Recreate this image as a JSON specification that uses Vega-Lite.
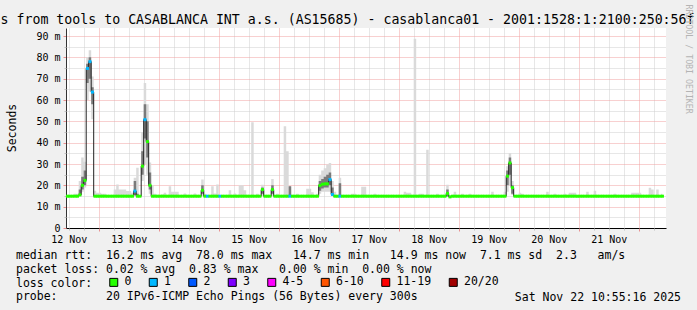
{
"$schema": "https://vega.github.io/schema/vega-lite/v6.json",
"width": 600, "height": 200,
"autosize": {"type": "none"},
"padding": {"left": 66, "top": 28, "right": 31, "bottom": 82},
"background": "#f0f0f0",
"config": {
  "view": {"stroke": null, "fill": "#ffffff"},
  "font": "DejaVu Sans Mono",
  "axis": {"labelFont": "DejaVu Sans Mono", "titleFont": "DejaVu Sans Mono", "labelColor": "#000000", "titleColor": "#000000", "titleFontWeight": "normal", "gridDash": [1, 1], "gridOpacity": 1}
},
"data": {"values": [
{"t":"2025-11-12T11:30","med":14.9,"loss":"0","lo":14.7,"q1":14.8,"q3":15,"hi":15.3},
{"t":"2025-11-12T12:30","med":14.9,"loss":"0","lo":14.7,"q1":14.8,"q3":15,"hi":15.3},
{"t":"2025-11-12T13:30","med":14.9,"loss":"0","lo":14.7,"q1":14.8,"q3":15,"hi":15.3},
{"t":"2025-11-12T14:30","med":14.9,"loss":"0","lo":14.7,"q1":14.8,"q3":15,"hi":16},
{"t":"2025-11-12T15:30","med":14.9,"loss":"0","lo":14.7,"q1":14.8,"q3":15,"hi":16},
{"t":"2025-11-12T16:30","med":15.5,"loss":"0","lo":14.7,"q1":15,"q3":18,"hi":22},
{"t":"2025-11-12T17:30","med":20,"loss":"0","lo":17,"q1":18,"q3":24,"hi":33},
{"t":"2025-11-12T18:30","med":22.3,"loss":"0","lo":19,"q1":20,"q3":27,"hi":31},
{"t":"2025-11-12T19:30","med":74.8,"loss":"1","lo":60,"q1":68,"q3":77,"hi":80},
{"t":"2025-11-12T20:30","med":78,"loss":"1","lo":64,"q1":70,"q3":80,"hi":83.3},
{"t":"2025-11-12T21:30","med":63.7,"loss":"1","lo":51,"q1":58,"q3":66,"hi":71},
{"t":"2025-11-12T22:30","med":14.9,"loss":"0","lo":14.7,"q1":14.8,"q3":15,"hi":17.5},
{"t":"2025-11-12T23:30","med":14.9,"loss":"0","lo":14.7,"q1":14.8,"q3":15,"hi":16.5},
{"t":"2025-11-13T00:30","med":14.9,"loss":"0","lo":14.7,"q1":14.8,"q3":15,"hi":16.5},
{"t":"2025-11-13T01:30","med":14.9,"loss":"0","lo":14.7,"q1":14.8,"q3":15,"hi":16},
{"t":"2025-11-13T02:30","med":14.9,"loss":"0","lo":14.7,"q1":14.8,"q3":15,"hi":16},
{"t":"2025-11-13T03:30","med":14.9,"loss":"0","lo":14.7,"q1":14.8,"q3":15,"hi":15.3},
{"t":"2025-11-13T04:30","med":14.9,"loss":"0","lo":14.7,"q1":14.8,"q3":15,"hi":15.3},
{"t":"2025-11-13T05:30","med":14.9,"loss":"0","lo":14.7,"q1":14.8,"q3":15,"hi":15.3},
{"t":"2025-11-13T06:30","med":14.9,"loss":"0","lo":14.7,"q1":14.8,"q3":15,"hi":18},
{"t":"2025-11-13T07:30","med":14.9,"loss":"0","lo":14.7,"q1":14.8,"q3":15,"hi":20.4},
{"t":"2025-11-13T08:30","med":14.9,"loss":"0","lo":14.7,"q1":14.8,"q3":15,"hi":18},
{"t":"2025-11-13T09:30","med":14.9,"loss":"0","lo":14.7,"q1":14.8,"q3":15,"hi":18},
{"t":"2025-11-13T10:30","med":14.9,"loss":"0","lo":14.7,"q1":14.8,"q3":15,"hi":18},
{"t":"2025-11-13T11:30","med":14.9,"loss":"0","lo":14.7,"q1":14.8,"q3":15,"hi":17.4},
{"t":"2025-11-13T12:30","med":14.9,"loss":"0","lo":14.7,"q1":14.8,"q3":15,"hi":17.4},
{"t":"2025-11-13T13:30","med":14.9,"loss":"0","lo":14.7,"q1":14.8,"q3":15,"hi":16.5},
{"t":"2025-11-13T14:30","med":17.3,"loss":"1","lo":15,"q1":15.5,"q3":22,"hi":23.6},
{"t":"2025-11-13T15:30","med":14.9,"loss":"0","lo":14.7,"q1":14.8,"q3":16,"hi":28.2},
{"t":"2025-11-13T16:30","med":14.9,"loss":"0","lo":14.7,"q1":14.8,"q3":15,"hi":15.5},
{"t":"2025-11-13T17:30","med":29,"loss":"0","lo":22,"q1":25,"q3":36,"hi":45},
{"t":"2025-11-13T18:30","med":50.8,"loss":"1","lo":30,"q1":42,"q3":58,"hi":68},
{"t":"2025-11-13T19:30","med":40.5,"loss":"0","lo":25,"q1":33,"q3":50,"hi":58},
{"t":"2025-11-13T20:30","med":20,"loss":"0","lo":16,"q1":18,"q3":26,"hi":30.7},
{"t":"2025-11-13T21:30","med":14.9,"loss":"0","lo":14.7,"q1":14.8,"q3":15,"hi":20},
{"t":"2025-11-13T22:30","med":14.9,"loss":"0","lo":14.7,"q1":14.8,"q3":15,"hi":16},
{"t":"2025-11-13T23:30","med":14.9,"loss":"0","lo":14.7,"q1":14.8,"q3":15,"hi":15.3},
{"t":"2025-11-14T00:30","med":14.9,"loss":"0","lo":14.7,"q1":14.8,"q3":15,"hi":15.3},
{"t":"2025-11-14T01:30","med":14.9,"loss":"0","lo":14.7,"q1":14.8,"q3":15,"hi":15.7},
{"t":"2025-11-14T02:30","med":14.9,"loss":"0","lo":14.7,"q1":14.8,"q3":15,"hi":16.5},
{"t":"2025-11-14T03:30","med":14.9,"loss":"0","lo":14.7,"q1":14.8,"q3":15,"hi":15.3},
{"t":"2025-11-14T04:30","med":14.9,"loss":"0","lo":14.7,"q1":14.8,"q3":15,"hi":19.6},
{"t":"2025-11-14T05:30","med":14.9,"loss":"0","lo":14.7,"q1":14.8,"q3":15,"hi":17},
{"t":"2025-11-14T06:30","med":14.9,"loss":"0","lo":14.7,"q1":14.8,"q3":15,"hi":17},
{"t":"2025-11-14T07:30","med":14.9,"loss":"0","lo":14.7,"q1":14.8,"q3":15,"hi":17},
{"t":"2025-11-14T08:30","med":14.9,"loss":"0","lo":14.7,"q1":14.8,"q3":15,"hi":15.3},
{"t":"2025-11-14T09:30","med":14.9,"loss":"0","lo":14.7,"q1":14.8,"q3":15,"hi":15.3},
{"t":"2025-11-14T10:30","med":14.9,"loss":"0","lo":14.7,"q1":14.8,"q3":15,"hi":16.2},
{"t":"2025-11-14T11:30","med":14.9,"loss":"0","lo":14.7,"q1":14.8,"q3":15,"hi":15.3},
{"t":"2025-11-14T12:30","med":14.9,"loss":"0","lo":14.7,"q1":14.8,"q3":15,"hi":15.3},
{"t":"2025-11-14T13:30","med":14.9,"loss":"0","lo":14.7,"q1":14.8,"q3":15,"hi":15.3},
{"t":"2025-11-14T14:30","med":14.9,"loss":"0","lo":14.7,"q1":14.8,"q3":15,"hi":16.2},
{"t":"2025-11-14T15:30","med":14.9,"loss":"0","lo":14.7,"q1":14.8,"q3":15,"hi":15.3},
{"t":"2025-11-14T16:30","med":14.9,"loss":"0","lo":14.7,"q1":14.8,"q3":15,"hi":15.3},
{"t":"2025-11-14T17:30","med":17.7,"loss":"0","lo":15,"q1":16,"q3":20,"hi":22.7},
{"t":"2025-11-14T18:30","med":14.9,"loss":"0","lo":14.7,"q1":14.8,"q3":15,"hi":16},
{"t":"2025-11-14T19:30","med":14.9,"loss":"1","lo":14.7,"q1":14.8,"q3":15,"hi":15.3},
{"t":"2025-11-14T20:30","med":14.9,"loss":"0","lo":14.7,"q1":14.8,"q3":15,"hi":15.3},
{"t":"2025-11-14T21:30","med":14.9,"loss":"0","lo":14.7,"q1":14.8,"q3":15,"hi":19.6},
{"t":"2025-11-14T22:30","med":14.9,"loss":"0","lo":14.7,"q1":14.8,"q3":15,"hi":16.2},
{"t":"2025-11-14T23:30","med":14.9,"loss":"0","lo":14.7,"q1":14.8,"q3":15,"hi":20.4},
{"t":"2025-11-15T00:30","med":14.9,"loss":"1","lo":14.7,"q1":14.8,"q3":15,"hi":15.3},
{"t":"2025-11-15T01:30","med":14.9,"loss":"0","lo":14.7,"q1":14.8,"q3":15,"hi":15.3},
{"t":"2025-11-15T02:30","med":14.9,"loss":"0","lo":14.7,"q1":14.8,"q3":15,"hi":15.3},
{"t":"2025-11-15T03:30","med":14.9,"loss":"0","lo":14.7,"q1":14.8,"q3":15,"hi":15.3},
{"t":"2025-11-15T04:30","med":14.9,"loss":"0","lo":14.7,"q1":14.8,"q3":15,"hi":17.7},
{"t":"2025-11-15T05:30","med":14.9,"loss":"0","lo":14.7,"q1":14.8,"q3":15,"hi":15.3},
{"t":"2025-11-15T06:30","med":14.9,"loss":"0","lo":14.7,"q1":14.8,"q3":15,"hi":16.2},
{"t":"2025-11-15T07:30","med":14.9,"loss":"0","lo":14.7,"q1":14.8,"q3":15,"hi":15.3},
{"t":"2025-11-15T08:30","med":14.9,"loss":"0","lo":14.7,"q1":14.8,"q3":15,"hi":20},
{"t":"2025-11-15T09:30","med":14.9,"loss":"0","lo":14.7,"q1":14.8,"q3":15,"hi":20},
{"t":"2025-11-15T10:30","med":14.9,"loss":"0","lo":14.7,"q1":14.8,"q3":15,"hi":17.7},
{"t":"2025-11-15T11:30","med":14.9,"loss":"0","lo":14.7,"q1":14.8,"q3":15,"hi":15.3},
{"t":"2025-11-15T12:30","med":14.9,"loss":"0","lo":14.7,"q1":14.8,"q3":15,"hi":15.3},
{"t":"2025-11-15T13:30","med":14.9,"loss":"0","lo":14.7,"q1":14.8,"q3":15,"hi":49.6},
{"t":"2025-11-15T14:30","med":14.9,"loss":"0","lo":14.7,"q1":14.8,"q3":15,"hi":15.3},
{"t":"2025-11-15T15:30","med":14.9,"loss":"0","lo":14.7,"q1":14.8,"q3":15,"hi":16},
{"t":"2025-11-15T16:30","med":14.9,"loss":"0","lo":14.7,"q1":14.8,"q3":15,"hi":15.3},
{"t":"2025-11-15T17:30","med":18,"loss":"0","lo":15,"q1":16,"q3":19,"hi":20.3},
{"t":"2025-11-15T18:30","med":14.9,"loss":"0","lo":14.7,"q1":14.8,"q3":15,"hi":15.3},
{"t":"2025-11-15T19:30","med":14.9,"loss":"0","lo":14.7,"q1":14.8,"q3":15,"hi":15.3},
{"t":"2025-11-15T20:30","med":14.9,"loss":"0","lo":14.7,"q1":14.8,"q3":15,"hi":15.3},
{"t":"2025-11-15T21:30","med":18,"loss":"0","lo":15,"q1":16,"q3":20,"hi":23},
{"t":"2025-11-15T22:30","med":14.9,"loss":"0","lo":14.7,"q1":14.8,"q3":15,"hi":15.3},
{"t":"2025-11-15T23:30","med":14.9,"loss":"0","lo":14.7,"q1":14.8,"q3":15,"hi":16},
{"t":"2025-11-16T00:30","med":14.9,"loss":"0","lo":14.7,"q1":14.8,"q3":15,"hi":15.3},
{"t":"2025-11-16T01:30","med":14.9,"loss":"0","lo":14.7,"q1":14.8,"q3":15,"hi":15.3},
{"t":"2025-11-16T02:30","med":14.9,"loss":"0","lo":14.7,"q1":14.8,"q3":15,"hi":47.7},
{"t":"2025-11-16T03:30","med":14.9,"loss":"0","lo":14.7,"q1":14.8,"q3":15,"hi":36},
{"t":"2025-11-16T04:30","med":14.9,"loss":"1","lo":14.7,"q1":14.8,"q3":19.6,"hi":19.6},
{"t":"2025-11-16T05:30","med":14.9,"loss":"0","lo":14.7,"q1":14.8,"q3":15,"hi":15.3},
{"t":"2025-11-16T06:30","med":14.9,"loss":"0","lo":14.7,"q1":14.8,"q3":15,"hi":15.3},
{"t":"2025-11-16T07:30","med":14.9,"loss":"0","lo":14.7,"q1":14.8,"q3":15,"hi":16},
{"t":"2025-11-16T08:30","med":14.9,"loss":"0","lo":14.7,"q1":14.8,"q3":15,"hi":15.3},
{"t":"2025-11-16T09:30","med":14.9,"loss":"0","lo":14.7,"q1":14.8,"q3":15,"hi":15.3},
{"t":"2025-11-16T10:30","med":14.9,"loss":"0","lo":14.7,"q1":14.8,"q3":15,"hi":15.3},
{"t":"2025-11-16T11:30","med":14.9,"loss":"0","lo":14.7,"q1":14.8,"q3":15,"hi":18.4},
{"t":"2025-11-16T12:30","med":14.9,"loss":"0","lo":14.7,"q1":14.8,"q3":15,"hi":18.4},
{"t":"2025-11-16T13:30","med":14.9,"loss":"0","lo":14.7,"q1":14.8,"q3":15,"hi":16.8},
{"t":"2025-11-16T14:30","med":14.9,"loss":"0","lo":14.7,"q1":14.8,"q3":15,"hi":15.3},
{"t":"2025-11-16T15:30","med":14.9,"loss":"0","lo":14.7,"q1":14.8,"q3":15,"hi":16},
{"t":"2025-11-16T16:30","med":19.9,"loss":"0","lo":16,"q1":17.5,"q3":22,"hi":25},
{"t":"2025-11-16T17:30","med":20.5,"loss":"0","lo":17,"q1":18.5,"q3":23,"hi":27},
{"t":"2025-11-16T18:30","med":20.7,"loss":"0","lo":17,"q1":19,"q3":24,"hi":28},
{"t":"2025-11-16T19:30","med":20.7,"loss":"0","lo":17,"q1":19,"q3":25,"hi":29.8},
{"t":"2025-11-16T20:30","med":22.7,"loss":"1","lo":17,"q1":20,"q3":26,"hi":30.5},
{"t":"2025-11-16T21:30","med":15.7,"loss":"1","lo":15,"q1":15.3,"q3":19,"hi":22},
{"t":"2025-11-16T22:30","med":14.9,"loss":"0","lo":14.7,"q1":14.8,"q3":15,"hi":17},
{"t":"2025-11-16T23:30","med":14.9,"loss":"0","lo":14.7,"q1":14.8,"q3":15,"hi":15.3},
{"t":"2025-11-17T00:30","med":14.9,"loss":"1","lo":14.7,"q1":14.8,"q3":21,"hi":23.5},
{"t":"2025-11-17T01:30","med":14.9,"loss":"0","lo":14.7,"q1":14.8,"q3":15,"hi":15.3},
{"t":"2025-11-17T02:30","med":14.9,"loss":"0","lo":14.7,"q1":14.8,"q3":15,"hi":15.3},
{"t":"2025-11-17T03:30","med":14.9,"loss":"0","lo":14.7,"q1":14.8,"q3":15,"hi":15.3},
{"t":"2025-11-17T04:30","med":14.9,"loss":"0","lo":14.7,"q1":14.8,"q3":15,"hi":15.3},
{"t":"2025-11-17T05:30","med":14.9,"loss":"0","lo":14.7,"q1":14.8,"q3":15,"hi":16},
{"t":"2025-11-17T06:30","med":14.9,"loss":"0","lo":14.7,"q1":14.8,"q3":15,"hi":16},
{"t":"2025-11-17T07:30","med":14.9,"loss":"0","lo":14.7,"q1":14.8,"q3":15,"hi":15.3},
{"t":"2025-11-17T08:30","med":14.9,"loss":"0","lo":14.7,"q1":14.8,"q3":15,"hi":15.3},
{"t":"2025-11-17T09:30","med":14.9,"loss":"0","lo":14.7,"q1":14.8,"q3":15,"hi":19.3},
{"t":"2025-11-17T10:30","med":14.9,"loss":"0","lo":14.7,"q1":14.8,"q3":15,"hi":19.3},
{"t":"2025-11-17T11:30","med":14.9,"loss":"0","lo":14.7,"q1":14.8,"q3":15,"hi":15.3},
{"t":"2025-11-17T12:30","med":14.9,"loss":"0","lo":14.7,"q1":14.8,"q3":15,"hi":15.3},
{"t":"2025-11-17T13:30","med":14.9,"loss":"0","lo":14.7,"q1":14.8,"q3":15,"hi":15.3},
{"t":"2025-11-17T14:30","med":14.9,"loss":"0","lo":14.7,"q1":14.8,"q3":15,"hi":16},
{"t":"2025-11-17T15:30","med":14.9,"loss":"0","lo":14.7,"q1":14.8,"q3":15,"hi":15.3},
{"t":"2025-11-17T16:30","med":14.9,"loss":"0","lo":14.7,"q1":14.8,"q3":15,"hi":15.3},
{"t":"2025-11-17T17:30","med":14.9,"loss":"0","lo":14.7,"q1":14.8,"q3":15,"hi":15.3},
{"t":"2025-11-17T18:30","med":14.9,"loss":"0","lo":14.7,"q1":14.8,"q3":15,"hi":15.3},
{"t":"2025-11-17T19:30","med":14.9,"loss":"0","lo":14.7,"q1":14.8,"q3":15,"hi":15.3},
{"t":"2025-11-17T20:30","med":14.9,"loss":"0","lo":14.7,"q1":14.8,"q3":15,"hi":15.3},
{"t":"2025-11-17T21:30","med":14.9,"loss":"0","lo":14.7,"q1":14.8,"q3":15,"hi":15.3},
{"t":"2025-11-17T22:30","med":14.9,"loss":"0","lo":14.7,"q1":14.8,"q3":15,"hi":15.3},
{"t":"2025-11-17T23:30","med":14.9,"loss":"0","lo":14.7,"q1":14.8,"q3":15,"hi":15.3},
{"t":"2025-11-18T00:30","med":14.9,"loss":"0","lo":14.7,"q1":14.8,"q3":15,"hi":15.3},
{"t":"2025-11-18T01:30","med":14.9,"loss":"0","lo":14.7,"q1":14.8,"q3":15,"hi":15.3},
{"t":"2025-11-18T02:30","med":14.9,"loss":"0","lo":14.7,"q1":14.8,"q3":15,"hi":17},
{"t":"2025-11-18T03:30","med":14.9,"loss":"0","lo":14.7,"q1":14.8,"q3":15,"hi":16.5},
{"t":"2025-11-18T04:30","med":14.9,"loss":"0","lo":14.7,"q1":14.8,"q3":15,"hi":16.5},
{"t":"2025-11-18T05:30","med":14.9,"loss":"0","lo":14.7,"q1":14.8,"q3":15,"hi":15.3},
{"t":"2025-11-18T06:30","med":14.9,"loss":"0","lo":14.7,"q1":14.8,"q3":15,"hi":88.7},
{"t":"2025-11-18T07:30","med":14.9,"loss":"0","lo":14.7,"q1":14.8,"q3":15,"hi":15.3},
{"t":"2025-11-18T08:30","med":14.9,"loss":"0","lo":14.7,"q1":14.8,"q3":15,"hi":16},
{"t":"2025-11-18T09:30","med":14.9,"loss":"0","lo":14.7,"q1":14.8,"q3":15,"hi":16},
{"t":"2025-11-18T10:30","med":14.9,"loss":"0","lo":14.7,"q1":14.8,"q3":15,"hi":15.3},
{"t":"2025-11-18T11:30","med":14.9,"loss":"0","lo":14.7,"q1":14.8,"q3":15,"hi":36.7},
{"t":"2025-11-18T12:30","med":14.9,"loss":"0","lo":14.7,"q1":14.8,"q3":15,"hi":15.3},
{"t":"2025-11-18T13:30","med":14.9,"loss":"0","lo":14.7,"q1":14.8,"q3":15,"hi":15.3},
{"t":"2025-11-18T14:30","med":14.9,"loss":"0","lo":14.7,"q1":14.8,"q3":15,"hi":15.3},
{"t":"2025-11-18T15:30","med":14.9,"loss":"0","lo":14.7,"q1":14.8,"q3":15,"hi":16},
{"t":"2025-11-18T16:30","med":14.9,"loss":"0","lo":14.7,"q1":14.8,"q3":15,"hi":15.3},
{"t":"2025-11-18T17:30","med":14.9,"loss":"0","lo":14.7,"q1":14.8,"q3":15,"hi":15.3},
{"t":"2025-11-18T18:30","med":14.9,"loss":"0","lo":14.7,"q1":14.8,"q3":15,"hi":15.3},
{"t":"2025-11-18T19:30","med":16.2,"loss":"0","lo":14.7,"q1":14.8,"q3":18,"hi":20.3},
{"t":"2025-11-18T20:30","med":14.6,"loss":"0","lo":14.5,"q1":14.6,"q3":15,"hi":15.3},
{"t":"2025-11-18T21:30","med":14.9,"loss":"0","lo":14.7,"q1":14.8,"q3":15,"hi":15.3},
{"t":"2025-11-18T22:30","med":14.9,"loss":"0","lo":14.7,"q1":14.8,"q3":15,"hi":17},
{"t":"2025-11-18T23:30","med":14.9,"loss":"0","lo":14.7,"q1":14.8,"q3":15,"hi":15.3},
{"t":"2025-11-19T00:30","med":14.9,"loss":"0","lo":14.7,"q1":14.8,"q3":15,"hi":15.3},
{"t":"2025-11-19T01:30","med":14.9,"loss":"0","lo":14.7,"q1":14.8,"q3":15,"hi":16},
{"t":"2025-11-19T02:30","med":14.9,"loss":"0","lo":14.7,"q1":14.8,"q3":15,"hi":15.3},
{"t":"2025-11-19T03:30","med":14.9,"loss":"0","lo":14.7,"q1":14.8,"q3":15,"hi":15.3},
{"t":"2025-11-19T04:30","med":14.9,"loss":"0","lo":14.7,"q1":14.8,"q3":15,"hi":16},
{"t":"2025-11-19T05:30","med":14.9,"loss":"0","lo":14.7,"q1":14.8,"q3":15,"hi":15.3},
{"t":"2025-11-19T06:30","med":14.9,"loss":"0","lo":14.7,"q1":14.8,"q3":15,"hi":15.3},
{"t":"2025-11-19T07:30","med":14.9,"loss":"0","lo":14.7,"q1":14.8,"q3":15,"hi":15.3},
{"t":"2025-11-19T08:30","med":14.9,"loss":"0","lo":14.7,"q1":14.8,"q3":15,"hi":15.3},
{"t":"2025-11-19T09:30","med":14.9,"loss":"0","lo":14.7,"q1":14.8,"q3":15,"hi":15.3},
{"t":"2025-11-19T10:30","med":14.9,"loss":"0","lo":14.7,"q1":14.8,"q3":15,"hi":15.3},
{"t":"2025-11-19T11:30","med":14.9,"loss":"0","lo":14.7,"q1":14.8,"q3":15,"hi":15.3},
{"t":"2025-11-19T12:30","med":14.9,"loss":"0","lo":14.7,"q1":14.8,"q3":15,"hi":15.3},
{"t":"2025-11-19T13:30","med":14.9,"loss":"0","lo":14.7,"q1":14.8,"q3":15,"hi":17},
{"t":"2025-11-19T14:30","med":14.9,"loss":"0","lo":14.7,"q1":14.8,"q3":15,"hi":15.3},
{"t":"2025-11-19T15:30","med":14.9,"loss":"0","lo":14.7,"q1":14.8,"q3":15,"hi":15.3},
{"t":"2025-11-19T16:30","med":14.9,"loss":"0","lo":14.7,"q1":14.8,"q3":15,"hi":15.3},
{"t":"2025-11-19T17:30","med":14.9,"loss":"0","lo":14.7,"q1":14.8,"q3":15,"hi":15.3},
{"t":"2025-11-19T18:30","med":14.9,"loss":"0","lo":14.7,"q1":14.8,"q3":15,"hi":17},
{"t":"2025-11-19T19:30","med":24.3,"loss":"0","lo":17,"q1":20,"q3":27,"hi":29},
{"t":"2025-11-19T20:30","med":30.5,"loss":"0","lo":20,"q1":25,"q3":33,"hi":35},
{"t":"2025-11-19T21:30","med":18.9,"loss":"0","lo":15.5,"q1":16,"q3":20,"hi":22},
{"t":"2025-11-19T22:30","med":14.9,"loss":"0","lo":14.7,"q1":14.8,"q3":15,"hi":15.3},
{"t":"2025-11-19T23:30","med":14.9,"loss":"0","lo":14.7,"q1":14.8,"q3":15,"hi":15.3},
{"t":"2025-11-20T00:30","med":14.9,"loss":"0","lo":14.7,"q1":14.8,"q3":15,"hi":16.5},
{"t":"2025-11-20T01:30","med":14.9,"loss":"0","lo":14.7,"q1":14.8,"q3":15,"hi":16},
{"t":"2025-11-20T02:30","med":14.9,"loss":"0","lo":14.7,"q1":14.8,"q3":15,"hi":15.3},
{"t":"2025-11-20T03:30","med":14.9,"loss":"0","lo":14.7,"q1":14.8,"q3":15,"hi":15.3},
{"t":"2025-11-20T04:30","med":14.9,"loss":"0","lo":14.7,"q1":14.8,"q3":15,"hi":15.3},
{"t":"2025-11-20T05:30","med":14.9,"loss":"0","lo":14.7,"q1":14.8,"q3":15,"hi":15.3},
{"t":"2025-11-20T06:30","med":14.9,"loss":"0","lo":14.7,"q1":14.8,"q3":15,"hi":15.3},
{"t":"2025-11-20T07:30","med":14.9,"loss":"0","lo":14.7,"q1":14.8,"q3":15,"hi":15.3},
{"t":"2025-11-20T08:30","med":14.9,"loss":"0","lo":14.7,"q1":14.8,"q3":15,"hi":15.3},
{"t":"2025-11-20T09:30","med":14.9,"loss":"0","lo":14.7,"q1":14.8,"q3":15,"hi":15.3},
{"t":"2025-11-20T10:30","med":14.9,"loss":"0","lo":14.7,"q1":14.8,"q3":15,"hi":15.3},
{"t":"2025-11-20T11:30","med":14.9,"loss":"0","lo":14.7,"q1":14.8,"q3":15,"hi":17},
{"t":"2025-11-20T12:30","med":14.9,"loss":"0","lo":14.7,"q1":14.8,"q3":15,"hi":15.3},
{"t":"2025-11-20T13:30","med":14.9,"loss":"0","lo":14.7,"q1":14.8,"q3":15,"hi":15.3},
{"t":"2025-11-20T14:30","med":14.9,"loss":"0","lo":14.7,"q1":14.8,"q3":15,"hi":16},
{"t":"2025-11-20T15:30","med":14.9,"loss":"0","lo":14.7,"q1":14.8,"q3":15,"hi":15.3},
{"t":"2025-11-20T16:30","med":14.9,"loss":"0","lo":14.7,"q1":14.8,"q3":15,"hi":15.3},
{"t":"2025-11-20T17:30","med":14.9,"loss":"0","lo":14.7,"q1":14.8,"q3":15,"hi":15.3},
{"t":"2025-11-20T18:30","med":14.9,"loss":"0","lo":14.7,"q1":14.8,"q3":15,"hi":16},
{"t":"2025-11-20T19:30","med":14.9,"loss":"0","lo":14.7,"q1":14.8,"q3":15,"hi":15.3},
{"t":"2025-11-20T20:30","med":14.9,"loss":"0","lo":14.7,"q1":14.8,"q3":15,"hi":16.5},
{"t":"2025-11-20T21:30","med":14.9,"loss":"0","lo":14.7,"q1":14.8,"q3":15,"hi":16.5},
{"t":"2025-11-20T22:30","med":14.9,"loss":"0","lo":14.7,"q1":14.8,"q3":15,"hi":16.5},
{"t":"2025-11-20T23:30","med":14.9,"loss":"0","lo":14.7,"q1":14.8,"q3":15,"hi":15.3},
{"t":"2025-11-21T00:30","med":14.9,"loss":"0","lo":14.7,"q1":14.8,"q3":15,"hi":15.3},
{"t":"2025-11-21T01:30","med":14.9,"loss":"0","lo":14.7,"q1":14.8,"q3":15,"hi":15.3},
{"t":"2025-11-21T02:30","med":14.9,"loss":"0","lo":14.7,"q1":14.8,"q3":15,"hi":15.3},
{"t":"2025-11-21T03:30","med":14.9,"loss":"0","lo":14.7,"q1":14.8,"q3":15,"hi":17},
{"t":"2025-11-21T04:30","med":14.9,"loss":"0","lo":14.7,"q1":14.8,"q3":15,"hi":15.3},
{"t":"2025-11-21T05:30","med":14.9,"loss":"0","lo":14.7,"q1":14.8,"q3":15,"hi":15.3},
{"t":"2025-11-21T06:30","med":14.9,"loss":"0","lo":14.7,"q1":14.8,"q3":15,"hi":17.5},
{"t":"2025-11-21T07:30","med":14.9,"loss":"0","lo":14.7,"q1":14.8,"q3":15,"hi":15.3},
{"t":"2025-11-21T08:30","med":14.9,"loss":"0","lo":14.7,"q1":14.8,"q3":15,"hi":15.3},
{"t":"2025-11-21T09:30","med":14.9,"loss":"0","lo":14.7,"q1":14.8,"q3":15,"hi":15.3},
{"t":"2025-11-21T10:30","med":14.9,"loss":"0","lo":14.7,"q1":14.8,"q3":15,"hi":15.3},
{"t":"2025-11-21T11:30","med":14.9,"loss":"0","lo":14.7,"q1":14.8,"q3":15,"hi":15.3},
{"t":"2025-11-21T12:30","med":14.9,"loss":"0","lo":14.7,"q1":14.8,"q3":15,"hi":15.3},
{"t":"2025-11-21T13:30","med":14.9,"loss":"0","lo":14.7,"q1":14.8,"q3":15,"hi":15.3},
{"t":"2025-11-21T14:30","med":14.9,"loss":"0","lo":14.7,"q1":14.8,"q3":15,"hi":16},
{"t":"2025-11-21T15:30","med":14.9,"loss":"0","lo":14.7,"q1":14.8,"q3":15,"hi":15.3},
{"t":"2025-11-21T16:30","med":14.9,"loss":"0","lo":14.7,"q1":14.8,"q3":15,"hi":15.3},
{"t":"2025-11-21T17:30","med":14.9,"loss":"0","lo":14.7,"q1":14.8,"q3":15,"hi":15.3},
{"t":"2025-11-21T18:30","med":14.9,"loss":"0","lo":14.7,"q1":14.8,"q3":15,"hi":15.3},
{"t":"2025-11-21T19:30","med":14.9,"loss":"0","lo":14.7,"q1":14.8,"q3":15,"hi":15.3},
{"t":"2025-11-21T20:30","med":14.9,"loss":"0","lo":14.7,"q1":14.8,"q3":15,"hi":15.3},
{"t":"2025-11-21T21:30","med":14.9,"loss":"0","lo":14.7,"q1":14.8,"q3":15,"hi":16.5},
{"t":"2025-11-21T22:30","med":14.9,"loss":"0","lo":14.7,"q1":14.8,"q3":15,"hi":16.5},
{"t":"2025-11-21T23:30","med":14.9,"loss":"0","lo":14.7,"q1":14.8,"q3":15,"hi":16.5},
{"t":"2025-11-22T00:30","med":14.9,"loss":"0","lo":14.7,"q1":14.8,"q3":15,"hi":16.5},
{"t":"2025-11-22T01:30","med":14.9,"loss":"0","lo":14.7,"q1":14.8,"q3":15,"hi":15.3},
{"t":"2025-11-22T02:30","med":14.9,"loss":"0","lo":14.7,"q1":14.8,"q3":15,"hi":15.3},
{"t":"2025-11-22T03:30","med":14.9,"loss":"0","lo":14.7,"q1":14.8,"q3":15,"hi":15.3},
{"t":"2025-11-22T04:30","med":14.9,"loss":"0","lo":14.7,"q1":14.8,"q3":15,"hi":18.9},
{"t":"2025-11-22T05:30","med":14.9,"loss":"0","lo":14.7,"q1":14.8,"q3":15,"hi":18},
{"t":"2025-11-22T06:30","med":14.9,"loss":"0","lo":14.7,"q1":14.8,"q3":15,"hi":15.3},
{"t":"2025-11-22T07:30","med":14.9,"loss":"0","lo":14.7,"q1":14.8,"q3":15,"hi":18},
{"t":"2025-11-22T08:30","med":14.9,"loss":"0","lo":14.7,"q1":14.8,"q3":15,"hi":15.3},
{"t":"2025-11-22T09:30","med":14.9,"loss":"0","lo":14.7,"q1":14.8,"q3":15,"hi":16}
]},
"resolve": {"axis": {"x": "independent", "y": "independent"}},
"layer": [
{
 "mark": {"type": "area", "interpolate": "step", "color": "#dadada"},
 "encoding": {
  "x": {"field": "t", "type": "temporal",
   "scale": {"domain": [{"year":2025,"month":11,"date":12,"hours":10,"minutes":55,"seconds":16},{"year":2025,"month":11,"date":22,"hours":10,"minutes":55,"seconds":16}], "nice": false},
   "axis": {"orient": "bottom",
    "values": [{"year":2025,"month":11,"date":12,"hours":12},{"year":2025,"month":11,"date":13,"hours":12},{"year":2025,"month":11,"date":14,"hours":12},{"year":2025,"month":11,"date":15,"hours":12},{"year":2025,"month":11,"date":16,"hours":12},{"year":2025,"month":11,"date":17,"hours":12},{"year":2025,"month":11,"date":18,"hours":12},{"year":2025,"month":11,"date":19,"hours":12},{"year":2025,"month":11,"date":20,"hours":12},{"year":2025,"month":11,"date":21,"hours":12}],
    "format": "%d %b", "formatType": "time",
    "grid": false, "ticks": false, "tickSize": 0,
    "domain": true, "domainColor": "#000000", "domainWidth": 1,
    "labelFontSize": 10, "labelPadding": 6, "labelFlush": false, "labelOverlap": false,
    "title": ["median\u00a0rtt:\u00a0\u00a016.2\u00a0ms\u00a0avg\u00a0\u00a078.0\u00a0ms\u00a0max\u00a0\u00a0\u00a014.7\u00a0ms\u00a0min\u00a0\u00a0\u00a014.9\u00a0ms\u00a0now\u00a0\u00a07.1\u00a0ms\u00a0sd\u00a0\u00a02.3\u00a0\u00a0\u00a0am/s",
              "packet\u00a0loss:\u00a00.02\u00a0%\u00a0avg\u00a0\u00a00.83\u00a0%\u00a0max\u00a0\u00a0\u00a00.00\u00a0%\u00a0min\u00a0\u00a00.00\u00a0%\u00a0now",
              "loss\u00a0color:",
              "probe:\u00a0\u00a0\u00a0\u00a0\u00a0\u00a0\u00a020\u00a0IPv6-ICMP\u00a0Echo\u00a0Pings\u00a0(56\u00a0Bytes)\u00a0every\u00a0300s"],
    "titleFontSize": 11.5, "titleAlign": "left", "titleAnchor": "start", "titleBaseline": "alphabetic", "titleLineHeight": 13.9,
    "titleX": -50.5, "titleY": 30.3}},
  "y": {"field": "lo", "type": "quantitative",
   "scale": {"domain": [0, 93.75], "nice": false, "zero": false},
   "axis": {"orient": "left", "values": [0,10,20,30,40,50,60,70,80,90],
    "labelExpr": "datum.value == 0 ? '0\u00a0\u00a0' : datum.value + ' m'",
    "grid": true, "gridColor": "#f0a0a0", "gridWidth": 1,
    "ticks": true, "tickColor": "#e89090", "tickSize": 3,
    "domain": true, "domainColor": "#333333",
    "labelFontSize": 10, "labelPadding": 3,
    "title": "Seconds", "titleFontSize": 11.5, "titleAngle": 270, "titleAlign": "center", "titleBaseline": "alphabetic",
    "titleX": -51, "titleY": 99.5}},
  "y2": {"field": "hi"}
 }
},
{
 "mark": {"type": "area", "interpolate": "step", "color": "#7a7a7a"},
 "encoding": {
  "x": {"field": "t", "type": "temporal",
   "scale": {"domain": [{"year":2025,"month":11,"date":12,"hours":10,"minutes":55,"seconds":16},{"year":2025,"month":11,"date":22,"hours":10,"minutes":55,"seconds":16}], "nice": false},
   "axis": {"orient": "bottom",
    "values": [{"year":2025,"month":11,"date":13},{"year":2025,"month":11,"date":14},{"year":2025,"month":11,"date":15},{"year":2025,"month":11,"date":16},{"year":2025,"month":11,"date":17},{"year":2025,"month":11,"date":18},{"year":2025,"month":11,"date":19},{"year":2025,"month":11,"date":20},{"year":2025,"month":11,"date":21},{"year":2025,"month":11,"date":22}],
    "grid": true, "gridColor": "#f0a0a0", "ticks": true, "tickColor": "#e89090", "tickSize": 3,
    "labels": false, "domain": false,
    "title": "Sat Nov 22 10:55:16 2025", "titleFontSize": 11.5, "titleAlign": "right", "titleAnchor": "end", "titleBaseline": "alphabetic",
    "titleX": 614.5, "titleY": 72}},
  "y": {"field": "q1", "type": "quantitative",
   "scale": {"domain": [0, 93.75], "nice": false, "zero": false},
   "axis": {"orient": "left", "values": [5,15,25,35,45,55,65,75,85],
    "grid": true, "gridColor": "#cfcfcf", "ticks": true, "tickColor": "#c0c0c0", "tickSize": 2,
    "labels": false, "domain": false, "title": null}},
  "y2": {"field": "q3"}
 }
},
{
 "mark": {"type": "line", "interpolate": "step", "color": "#202020", "strokeWidth": 1},
 "encoding": {
  "x": {"field": "t", "type": "temporal",
   "scale": {"domain": [{"year":2025,"month":11,"date":12,"hours":10,"minutes":55,"seconds":16},{"year":2025,"month":11,"date":22,"hours":10,"minutes":55,"seconds":16}], "nice": false},
   "axis": {"orient": "bottom",
    "values": [{"year":2025,"month":11,"date":12,"hours":12},{"year":2025,"month":11,"date":12,"hours":18},
     {"year":2025,"month":11,"date":13,"hours":6},{"year":2025,"month":11,"date":13,"hours":12},{"year":2025,"month":11,"date":13,"hours":18},
     {"year":2025,"month":11,"date":14,"hours":6},{"year":2025,"month":11,"date":14,"hours":12},{"year":2025,"month":11,"date":14,"hours":18},
     {"year":2025,"month":11,"date":15,"hours":6},{"year":2025,"month":11,"date":15,"hours":12},{"year":2025,"month":11,"date":15,"hours":18},
     {"year":2025,"month":11,"date":16,"hours":6},{"year":2025,"month":11,"date":16,"hours":12},{"year":2025,"month":11,"date":16,"hours":18},
     {"year":2025,"month":11,"date":17,"hours":6},{"year":2025,"month":11,"date":17,"hours":12},{"year":2025,"month":11,"date":17,"hours":18},
     {"year":2025,"month":11,"date":18,"hours":6},{"year":2025,"month":11,"date":18,"hours":12},{"year":2025,"month":11,"date":18,"hours":18},
     {"year":2025,"month":11,"date":19,"hours":6},{"year":2025,"month":11,"date":19,"hours":12},{"year":2025,"month":11,"date":19,"hours":18},
     {"year":2025,"month":11,"date":20,"hours":6},{"year":2025,"month":11,"date":20,"hours":12},{"year":2025,"month":11,"date":20,"hours":18},
     {"year":2025,"month":11,"date":21,"hours":6},{"year":2025,"month":11,"date":21,"hours":12},{"year":2025,"month":11,"date":21,"hours":18},
     {"year":2025,"month":11,"date":22,"hours":6}],
    "grid": true, "gridColor": "#cfcfcf", "ticks": true, "tickColor": "#c0c0c0", "tickSize": 2,
    "labels": false, "domain": false, "title": null}},
  "y": {"field": "med", "type": "quantitative",
   "scale": {"domain": [0, 93.75], "nice": false, "zero": false},
   "axis": {"orient": "right", "grid": false, "ticks": false, "labels": false, "domain": false,
    "title": "RRDTOOL / TOBI OETIKER", "titleFontSize": 8.25, "titleColor": "#b4b4b4", "titleAngle": 90,
    "titleAlign": "left", "titleBaseline": "alphabetic", "titleX": 19, "titleY": -24}}
 }
},
{
 "mark": {"type": "tick", "orient": "horizontal", "size": 3, "thickness": 3, "opacity": 1},
 "encoding": {
  "x": {"field": "t", "type": "temporal",
   "scale": {"domain": [{"year":2025,"month":11,"date":12,"hours":10,"minutes":55,"seconds":16},{"year":2025,"month":11,"date":22,"hours":10,"minutes":55,"seconds":16}], "nice": false},
   "axis": {"orient": "top", "grid": false, "ticks": false, "labels": false, "domain": false,
    "title": "s from tools to CASABLANCA INT a.s. (AS15685) - casablanca01 - 2001:1528:1:2100:250:56f",
    "titleFontSize": 13.25, "titleAlign": "left", "titleBaseline": "alphabetic", "titleX": -66, "titleY": -4.5}},
  "y": {"field": "med", "type": "quantitative",
   "scale": {"domain": [0, 93.75], "nice": false, "zero": false}, "axis": null},
  "color": {"field": "loss", "type": "nominal",
   "scale": {"domain": ["0","1","2","3","4-5","6-10","11-19","20/20"], "range": ["#26ff00","#00b8ff","#0059ff","#7e00ff","#ff00ff","#ff5500","#ff0000","#a10000"]},
   "legend": {"orient": "none", "legendX": 42, "legendY": 248.5, "direction": "horizontal", "columns": 8, "title": null,
    "symbolType": "square", "symbolSize": 64, "symbolStrokeColor": "#000000", "symbolStrokeWidth": 1, "symbolOpacity": 1,
    "labelFont": "DejaVu Sans Mono", "labelFontSize": 11.5, "labelColor": "#000000", "labelOffset": 5, "columnPadding": 14.5, "padding": 0}}
 }
}
]
}
